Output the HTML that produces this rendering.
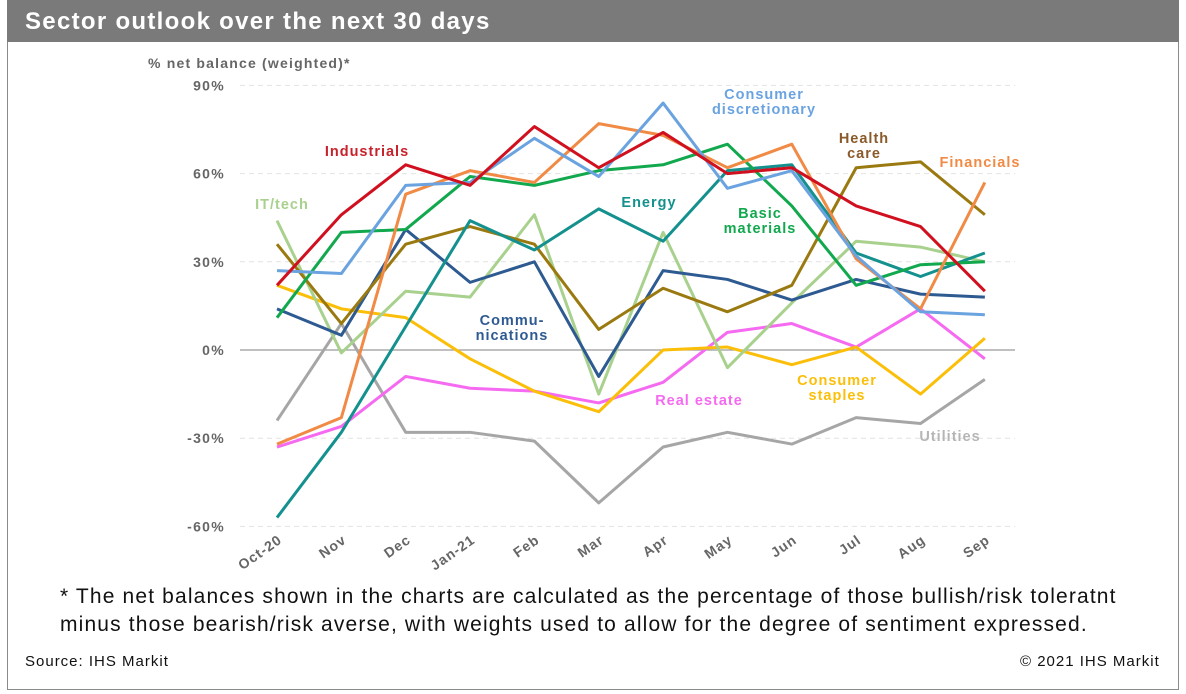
<!DOCTYPE html>
<html><head><meta charset="utf-8"><style>
body{margin:0;background:#fff;font-family:"Liberation Sans",Arial,sans-serif;}
#wrap{position:relative;width:1186px;height:694px;overflow:hidden;}
#frame{position:absolute;left:7px;top:0;width:1172px;height:690px;border:1px solid #8a8a8a;box-sizing:border-box;}
#hdr{position:absolute;left:7px;top:0;width:1172px;height:42px;background:#7a7a7a;color:#fff;font-weight:bold;font-size:24px;letter-spacing:1.3px;line-height:44px;padding-left:18px;box-sizing:border-box;}
.fn{position:absolute;left:60px;font-size:21px;letter-spacing:1.15px;color:#111;white-space:nowrap;}
.src{position:absolute;top:653px;font-size:15px;letter-spacing:1px;color:#111;}
</style></head><body>
<div id="wrap">
<div id="frame"></div>
<div id="hdr">Sector outlook over the next 30 days</div>
<svg id="chart" width="1186" height="694" style="position:absolute;left:0;top:0"></svg>
<div class="fn" style="top:585px">* The net balances shown in the charts are calculated as the percentage of those bullish/risk toleratnt</div>
<div class="fn" style="top:613px">minus those bearish/risk averse, with weights used to allow for the degree of sentiment expressed.</div>
<div class="src" style="left:25px">Source: IHS Markit</div>
<div class="src" style="left:1020px">© 2021 IHS Markit</div>
</div>
<script>
const months=["Oct-20","Nov","Dec","Jan-21","Feb","Mar","Apr","May","Jun","Jul","Aug","Sep"];
const yTicks=[90,60,30,0,-30,-60];
const industrials=[22,46,63,56,76,62,74,60,62,49,42,20];
const consumerDisc=[27,26,56,57,72,59,84,55,61,32,13,12];
const financials=[-32,-23,53,61,57,77,73,62,70,31,14,57];
const basicMaterials=[11,40,41,59,56,61,63,70,49,22,29,30];
const energy=[-57,-28,8,44,34,48,37,61,63,33,25,33];
const itTech=[44,-1,20,18,46,-15,40,-6,16,37,35,30];
const healthCare=[36,9,36,42,36,7,21,13,22,62,64,46];
const communications=[14,5,41,23,30,-9,27,24,17,24,19,18];
const consumerStaples=[22,14,11,-3,-14,-21,0,1,-5,1,-15,4];
const realEstate=[-33,-26,-9,-13,-14,-18,-11,6,9,1,14,-3];
const utilities=[-24,9,-28,-28,-31,-52,-33,-28,-32,-23,-25,-10];
const series=[
 {name:"utilities",d:utilities,c:"#a6a6a6"},
 {name:"real-estate",d:realEstate,c:"#f56af0"},
 {name:"consumer-staples",d:consumerStaples,c:"#fbbf0a"},
 {name:"it-tech",d:itTech,c:"#a9d18e"},
 {name:"communications",d:communications,c:"#2e5a92"},
 {name:"health-care",d:healthCare,c:"#9a7a10"},
 {name:"energy",d:energy,c:"#14918e"},
 {name:"basic-materials",d:basicMaterials,c:"#12a84e"},
 {name:"financials",d:financials,c:"#f18a45"},
 {name:"consumer-discretionary",d:consumerDisc,c:"#6aa3e0"},
 {name:"industrials",d:industrials,c:"#d0101e"}
];
const labels=[
 {t:["Industrials"],x:367,y:156,c:"#c8232c"},
 {t:["Consumer","discretionary"],x:764,y:99,c:"#6aa3e0"},
 {t:["Health","care"],x:864,y:143,c:"#8a5a2a"},
 {t:["Financials"],x:980,y:167,c:"#f18a45"},
 {t:["IT/tech"],x:282,y:209,c:"#a9d18e"},
 {t:["Energy"],x:649,y:207,c:"#14918e"},
 {t:["Basic","materials"],x:760,y:218,c:"#12a84e"},
 {t:["Commu-","nications"],x:512,y:325,c:"#2e5a92"},
 {t:["Real estate"],x:699,y:405,c:"#f56af0"},
 {t:["Consumer","staples"],x:837,y:385,c:"#fbbf0a"},
 {t:["Utilities"],x:950,y:441,c:"#b5b5b5"}
];
const NS="http://www.w3.org/2000/svg";
const svg=document.getElementById('chart');
const X=i=>277+i*64.35;
const Y=v=>350-v*88.2/30;
function mk(tag,attrs){const e=document.createElementNS(NS,tag);for(const k in attrs)e.setAttribute(k,attrs[k]);svg.appendChild(e);return e;}
yTicks.forEach(v=>{
 const g=mk('line',{x1:240,x2:1015,y1:Y(v),y2:Y(v),stroke:v===0?'#9a9a9a':'#e2e2e2','stroke-width':v===0?1.3:1,'stroke-dasharray':v===0?'':'5,4'});
 
 
 const t=mk('text',{x:225,y:Y(v)+5,'text-anchor':'end','font-size':14,'font-weight':'bold','letter-spacing':'1.3',fill:'#666','font-family':'Liberation Sans, sans-serif'});
 t.textContent=v+'%';
 
 
});
const yt=mk('text',{x:148,y:68,'font-size':14,'font-weight':'bold','letter-spacing':'1.2',fill:'#666','font-family':'Liberation Sans, sans-serif'});
yt.textContent='% net balance (weighted)*';


months.forEach((m,i)=>{
 const t=mk('text',{x:X(i)+6,y:542,'text-anchor':'end','font-size':14,'font-weight':'bold','letter-spacing':'1',fill:'#666','font-family':'Liberation Sans, sans-serif',transform:`rotate(-35 ${X(i)+6} 542)`});
 t.textContent=m;
 
 
});
series.forEach(s=>{
 const p=mk('polyline',{points:s.d.map((v,i)=>X(i)+','+Y(v)).join(' '),fill:'none',stroke:s.c,'stroke-width':3,'stroke-linejoin':'round'});
 
 
});
labels.forEach(l=>{
 const t=mk('text',{x:l.x,y:l.y,'text-anchor':'middle','font-size':14.5,'font-weight':'bold',fill:l.c,'letter-spacing':'1','font-family':'Liberation Sans, sans-serif'});
 l.t.forEach((s,k)=>{const ts=document.createElementNS(NS,'tspan');ts.setAttribute('x',l.x);ts.setAttribute('dy',k?15:0);ts.textContent=s;t.appendChild(ts);});
 
 
});
</script>
</body></html>
